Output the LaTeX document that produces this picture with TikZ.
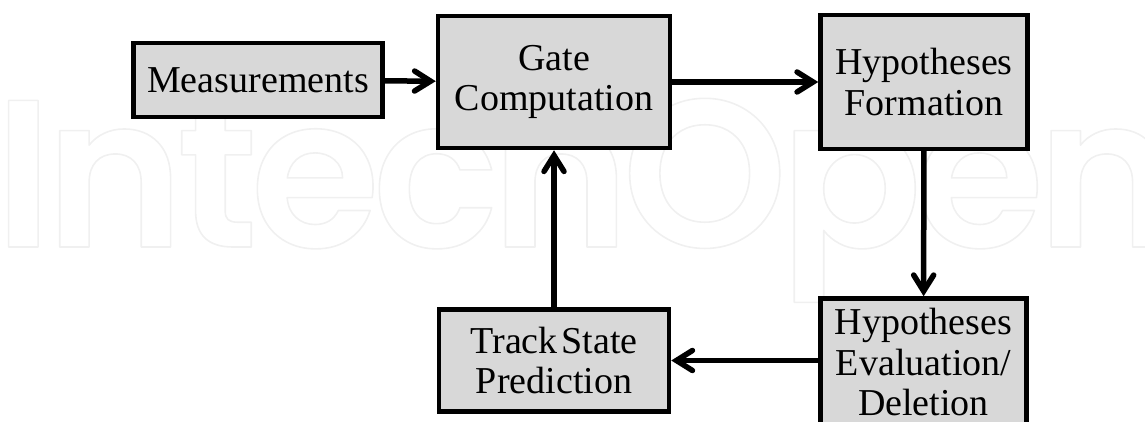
\documentclass[tikz,border=0pt]{standalone}
\usepackage{fontspec}
\setmainfont{Liberation Serif}
\newfontfamily\markfont[LetterSpace=-3.6]{Poppins SemiBold}
\usetikzlibrary{arrows.meta,positioning}
\definecolor{boxgray}{HTML}{D8D8D8}
\newcommand{\outlinetext}[1]{\special{pdf:code q 1 Tr 1 j 1.6 w 0.94 0.94 0.94 RG}#1\special{pdf:code Q}}
\tikzset{
    %Define standard arrow tip
    >={Straight Barb[length=16pt,width=20pt,line cap=round]},
    %Define style for boxes
    blok/.style={
           rectangle,
           draw=black, line width=4.5pt,
           fill=boxgray,
           inner sep=0pt,
           align=center,
           font=\fontsize{38}{40.5}\selectfont},
    % Define arrow style
    pijl/.style={
           ->,
           line width=5.5pt}
}
\begin{document}
\begin{tikzpicture}[x=1pt,y=1pt,node distance=50pt]
\useasboundingbox (0,0) rectangle (1145,422);
\node[anchor=base west,inner sep=0pt] (watermark) at (-6,175) {\fontsize{210}{210}\markfont\outlinetext{IntechOpen}};
% top row
\node[blok, minimum width=232pt, minimum height=132pt] (gate) at (554,340) {Gate\\Computation};
\node[blok, minimum width=249pt, minimum height=74pt, left=51pt of gate, yshift=2pt] (meas) {Measurements};
\node[blok, minimum width=207pt, minimum height=134pt, right=146pt of gate] (form) {Hypotheses\\Formation};
% bottom row
\node[blok, minimum width=230pt, minimum height=102pt, below=157pt of gate] (track) {{\spaceskip=.1em Track State}\\Prediction};
\node[blok, minimum width=206pt, minimum height=128pt, right=147pt of track, yshift=-2pt] (eval) {Hypotheses\\Evaluation/\\Deletion};

\draw[pijl] (meas) -- (gate);
\draw[pijl] (gate) -- (form);
\draw[pijl] (form) -- (eval);
\draw[pijl] (eval.west |- track) -- (track);
\draw[pijl] (track.north -| gate) -- (gate);
\end{tikzpicture}
\end{document}
